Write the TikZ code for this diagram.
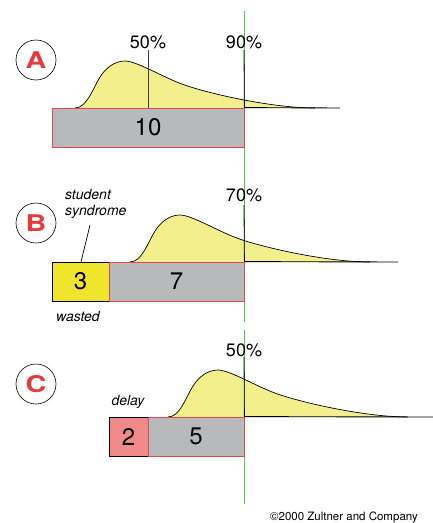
\documentclass[tikz,border=0pt]{standalone}
\usepackage{fontspec}
\usepackage{graphicx}
\setmainfont{TeX Gyre Heros}
\definecolor{curvefill}{HTML}{F3EF8D}
\definecolor{yelbox}{HTML}{EFE62C}
\definecolor{pinkbox}{HTML}{F08A8A}
\definecolor{greybar}{HTML}{B7B9BB}
\definecolor{barred}{HTML}{E5484B}
\definecolor{limeline}{HTML}{5BC850}
\definecolor{letterred}{HTML}{E8383D}
\newcommand{\distpath}{(0,0) .. controls (12,0) and (18,-20) .. (25,-31) .. controls (31,-40.5) and (40,-47) .. (50,-47) .. controls (62,-47) and (91,-29) .. (111,-22.5) .. controls (141,-12.5) and (200,0) .. (240,0)}
\begin{document}
\begin{tikzpicture}[x=1pt,y=-1pt,
  panelletter/.style={circle,draw=black,line width=0.6pt,minimum size=40pt,inner sep=0pt,text=letterred,font=\fontsize{23}{23}\selectfont\bfseries},
  pct/.style={inner sep=0pt,font=\fontsize{18}{18}\selectfont},
  barbox/.style={draw=barred,fill=greybar,line width=0.8pt,inner sep=0pt,minimum height=39pt,font=\fontsize{24}{24}\selectfont},
  wastebox/.style={draw=black,line width=0.8pt,inner sep=0pt,minimum height=39pt,font=\fontsize{24}{24}\selectfont},
  note/.style={inner sep=0pt,font=\fontsize{14}{16}\selectfont\itshape,align=left},
  dist/.style={fill=curvefill},
  distline/.style={draw=black,line width=0.7pt},
  baseln/.style={draw=black,line width=0.9pt},
  pline/.style={draw=black,line width=0.8pt},
]
\useasboundingbox (0,0) rectangle (433,523);

% distributions (fill)
\begin{scope}[shift={(75,108)}]
  \fill[curvefill] \distpath -- cycle;
\end{scope}
\begin{scope}[shift={(130,262)}]
  \fill[curvefill] \distpath -- cycle;
\end{scope}
\begin{scope}[shift={(168,417)}]
  \fill[curvefill] \distpath -- cycle;
\end{scope}

% green deadline line
\coordinate (g1) at (244,11);
\coordinate (g2) at (244,322);
\coordinate (g3) at (244,330);
\coordinate (g4) at (244,504);
\draw[limeline,line width=0.9pt] (g1) -- (g2);
\draw[limeline,line width=0.9pt] (g3) -- (g4);

% distribution outlines
\begin{scope}[shift={(75,108)}]
  \draw[distline] \distpath;
\end{scope}
\begin{scope}[shift={(130,262)}]
  \draw[distline] \distpath;
\end{scope}
\begin{scope}[shift={(168,417)}]
  \draw[distline] \distpath;
\end{scope}

% ---------- Panel A ----------
\node[panelletter] (A) at (36,60) {\scalebox{1.25}[1]{A}};
\node[barbox,minimum width=192pt] (barA) at (148,127.5) {10};
\coordinate (endA) at (340,108);
\draw[baseln] (barA.north east) -- (endA);
\node[pct] (p50A) at (148,42) {50\%};
\node[pct] (p90A) at (244,42) {90\%};
\draw[draw=black!75,line width=0.8pt] (148,50) -- (p50A.south |- barA.north);
\draw[pline] (244,50) -- (barA.north east);

% ---------- Panel B ----------
\node[panelletter] (B) at (36,223) {\scalebox{1.25}[1]{B}};
\node[wastebox,fill=yelbox,minimum width=57pt] (wB) at (80.5,281.5) {3};
\node[barbox,minimum width=135pt] (barB) at (176.5,281.5) {7};
\coordinate (endB) at (398,262);
\draw[baseln] (barB.north east) -- (endB);
\node[pct] (p70B) at (244,195) {70\%};
\draw[pline] (244,205) -- (barB.north east);
\node[note,anchor=west] (ss) at (65,204) {student\\syndrome};
\coordinate (ssTop) at (90,225);
\coordinate (ssBot) at (81,262);
\draw[black,line width=0.7pt] (ssTop) -- (ssBot);
\node[note] (wasted) at (78,316) {wasted};

% ---------- Panel C ----------
\node[panelletter] (C) at (36,384) {\scalebox{1.25}[1]{C}};
\node[wastebox,fill=pinkbox,minimum width=39pt] (dC) at (128.5,436.5) {2};
\node[barbox,minimum width=96pt] (barC) at (196,436.5) {5};
\coordinate (endC) at (433,417);
\draw[baseln] (barC.north east) -- (endC);
\node[pct] (p50C) at (244,350) {50\%};
\draw[pline] (244,357) -- (barC.north east);
\node[note] (delay) at (128,402) {delay};

% copyright
\node[inner sep=0pt,anchor=base,font=\fontsize{11.5}{12}\selectfont] (copy) at (344,520) {\textcopyright2000 Zultner and Company};
\end{tikzpicture}
\end{document}
